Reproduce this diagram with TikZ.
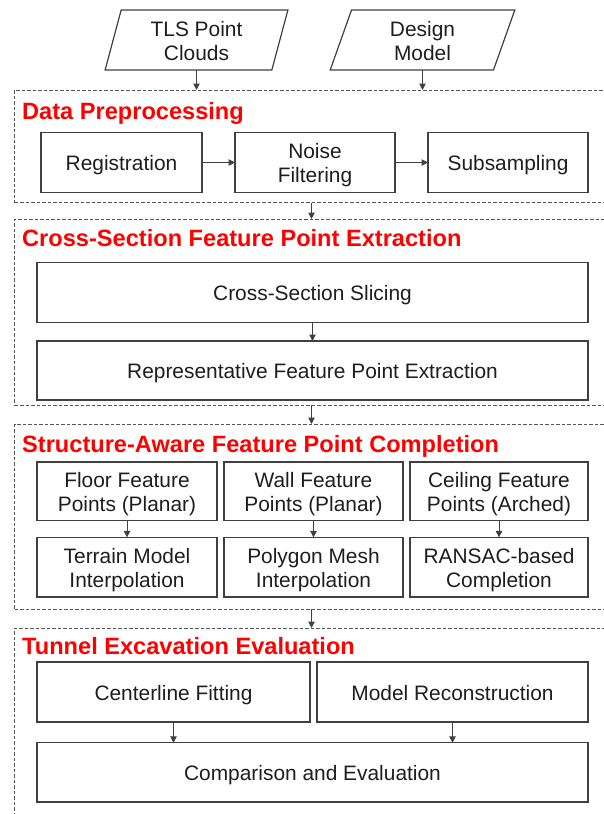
\documentclass[tikz,border=0pt]{standalone}
\usepackage{fontspec}
\setmainfont{Liberation Sans}
\usetikzlibrary{arrows.meta,shapes.geometric,calc}
\definecolor{edge}{HTML}{404040}
\definecolor{dashc}{HTML}{555555}
\definecolor{ink}{HTML}{1E1E1E}
\definecolor{titlered}{HTML}{FF0000}
% one text line with a fixed cap-height box, so lines centre on their capitals
\newcommand\capline[1]{\raisebox{0pt}[16.4pt][0pt]{#1}}

\begin{document}
\begin{tikzpicture}[x=1pt,y=-1pt,
  box/.style={draw=edge, line width=1.2pt, inner sep=0pt, outer sep=0pt,
    align=center, text=ink, font=\fontsize{20.9}{24}\selectfont},
  stage/.style={draw=dashc, line width=0.9pt, dash pattern=on 3.5pt off 2pt,
    inner sep=0pt, outer sep=0pt, anchor=north west},
  heading/.style={anchor=base west, inner sep=0pt, text=titlered,
    font=\fontsize{23.6}{28}\selectfont\bfseries},
  arr/.style={draw=edge, line width=1pt, -{Triangle[length=6.5pt,width=6.5pt]}},
  source/.style={box, trapezium, trapezium left angle=76.4,
    trapezium right angle=103.6, trapezium stretches=true, minimum height=60pt},
]
\clip (0,0) rectangle (604,814);

% inputs
\node[source, minimum width=183pt] (tls) at (196.5,40) {\capline{TLS Point}\\\capline{Clouds}};
\node[source, minimum width=185pt] (dm)  at (422.5,40) {\capline{Design}\\\capline{Model}};

% stage frames (open to the right and bottom of the page)
\node[stage, minimum width=620pt, minimum height=112.7pt] (pre) at (14.6,90) {};
\node[stage, minimum width=620pt, minimum height=186pt]   (fe)  at (14.6,219) {};
\node[stage, minimum width=620pt, minimum height=185pt]   (cp)  at (14.6,424) {};
\node[stage, minimum width=620pt, minimum height=220pt]   (ev)  at (14.6,628) {};

% stage headings
\node[heading] (h1) at (22,119) {Data Preprocessing};
\node[heading] (h2) at (22,246) {Cross-Section Feature Point Extraction};
\node[heading] (h3) at (22,452) {Structure-Aware Feature Point Completion};
\node[heading] (h4) at (22,654) {Tunnel Excavation Evaluation};

% data preprocessing
\node[box, minimum width=161pt, minimum height=59.6pt] (reg)   at (121.5,162.5) {\capline{Registration}};
\node[box, minimum width=160pt, minimum height=59.6pt] (noise) at (315,162.5) {\capline{Noise}\\\capline{Filtering}};
\node[box, minimum width=160pt, minimum height=59.6pt] (sub)   at (508,162.5) {\capline{Subsampling}};

% feature point extraction
\node[box, minimum width=551pt, minimum height=60.5pt] (slice) at (312.5,292.5) {\capline{Cross-Section Slicing}};
\node[box, minimum width=551pt, minimum height=59pt]   (rep)   at (312.5,370.5) {\capline{Representative Feature Point Extraction}};

% feature point completion
\node[box, minimum width=180pt, minimum height=58.7pt] (floor) at (127,491.3) {\capline{Floor Feature}\\\capline{Points (Planar)}};
\node[box, minimum width=179pt, minimum height=58.7pt] (wall)  at (313.5,491.3) {\capline{Wall Feature}\\\capline{Points (Planar)}};
\node[box, minimum width=178pt, minimum height=58.7pt] (ceil)  at (499,491.3) {\capline{Ceiling Feature}\\\capline{Points (Arched)}};
\node[box, minimum width=180pt, minimum height=59.7pt] (terr)  at (127,567.2) {\capline{Terrain Model}\\\capline{Interpolation}};
\node[box, minimum width=179pt, minimum height=59.7pt] (mesh)  at (313.5,567.2) {\capline{Polygon Mesh}\\\capline{Interpolation}};
\node[box, minimum width=178pt, minimum height=59.7pt] (ransac) at (499,567.2) {\capline{RANSAC-based}\\\capline{Completion}};

% evaluation
\node[box, minimum width=273pt, minimum height=60pt]   (cfit)  at (173.5,692) {\capline{Centerline Fitting}};
\node[box, minimum width=271pt, minimum height=60pt]   (recon) at (452.5,692) {\capline{Model Reconstruction}};
\node[box, minimum width=551pt, minimum height=59.3pt] (cmp)   at (312.5,772.4) {\capline{Comparison and Evaluation}};

% connectors
\draw[arr] (tls.center |- tls.bottom side) -- (tls.center |- pre.north);
\draw[arr] (dm.center |- dm.bottom side) -- (dm.center |- pre.north);
\draw[arr] (reg) -- (noise);
\draw[arr] (noise) -- (sub);
\draw[arr] (pre.south -| 311.5,0) -- (fe.north -| 311.5,0);
\draw[arr] (slice) -- (rep);
\draw[arr] (fe.south -| 311.5,0) -- (cp.north -| 311.5,0);
\draw[arr] (floor) -- (terr);
\draw[arr] (wall) -- (mesh);
\draw[arr] (ceil) -- (ransac);
\draw[arr] (cp.south -| 311.5,0) -- (ev.north -| 311.5,0);
\draw[arr] (cfit.south) -- (cfit.south |- cmp.north);
\draw[arr] (recon.south) -- (recon.south |- cmp.north);
\end{tikzpicture}
\end{document}
